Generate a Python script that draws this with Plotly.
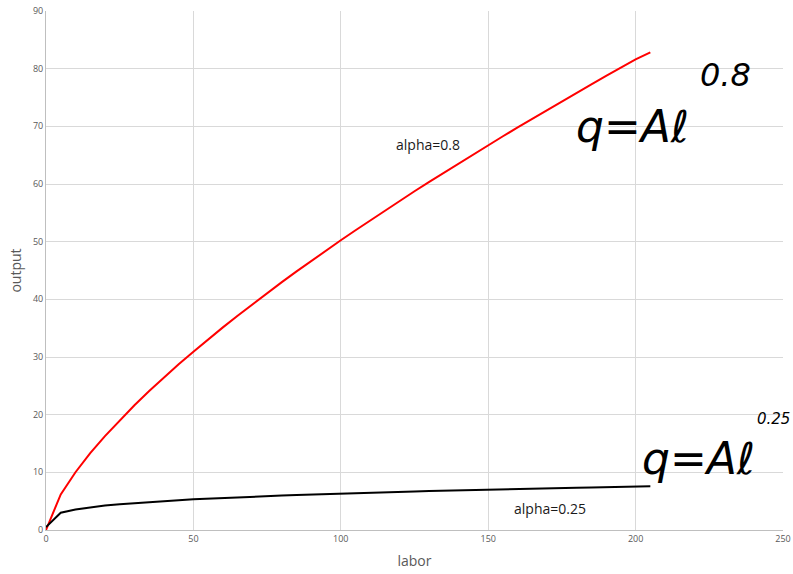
import plotly.graph_objects as go

labor = [0, 5, 10, 15, 20, 25, 30, 35, 40, 45, 50, 55, 60, 65, 70, 75, 80, 85, 90, 95,
         100, 105, 110, 115, 120, 125, 130, 135, 140, 145, 150, 155, 160, 165, 170, 175,
         180, 185, 190, 195, 200, 205]
output_alpha_08 = [0.0, 6.18, 10.02, 13.32, 16.29, 19.04, 21.63, 24.10, 26.46, 28.74, 30.92,
                   33.06, 35.14, 37.16, 39.14, 41.07, 42.98, 44.84, 46.67, 48.47, 50.24,
                   51.98, 53.70, 55.41, 57.08, 58.74, 60.37, 61.98, 63.58, 65.16, 66.72,
                   68.28, 69.81, 71.33, 72.84, 74.33, 75.81, 77.27, 78.73, 80.17, 81.60, 82.84]
output_alpha_025 = [0.5, 2.99, 3.56, 3.94, 4.23, 4.47, 4.68, 4.86, 5.03, 5.18, 5.32, 5.45,
                    5.57, 5.68, 5.79, 5.89, 5.98, 6.07, 6.16, 6.24, 6.32, 6.40, 6.48, 6.55,
                    6.62, 6.69, 6.75, 6.82, 6.88, 6.94, 7.00, 7.06, 7.11, 7.17, 7.22, 7.27,
                    7.33, 7.38, 7.43, 7.47, 7.52, 7.57]

x_ticks = [0, 50, 100, 150, 200, 250]
y_ticks = [0, 10, 20, 30, 40, 50, 60, 70, 80, 90]

fig = go.Figure()
fig.add_trace(go.Scatter(x=labor, y=output_alpha_08, mode="lines",
                         line=dict(color="#ff0000", width=2), name="alpha=0.8"))
fig.add_trace(go.Scatter(x=labor, y=output_alpha_025, mode="lines",
                         line=dict(color="#000000", width=2), name="alpha=0.25"))

gray = "#595959"
fig.update_layout(
    width=793, height=574,
    margin=dict(l=46, r=10, t=11, b=44),
    paper_bgcolor="white", plot_bgcolor="white",
    showlegend=False,
    font=dict(family="Open Sans, Liberation Sans, sans-serif", color=gray),
    xaxis=dict(range=[0, 250], tickvals=x_ticks, showgrid=True, gridcolor="#d9d9d9",
               gridwidth=1, zeroline=False, showline=True, linecolor="#bfbfbf",
               tickfont=dict(size=9, color=gray), ticks="", ticklen=0, automargin=False,
               title=dict(text="labor", font=dict(size=14, color=gray), standoff=12)),
    yaxis=dict(range=[0, 90], tickvals=y_ticks, showgrid=True, gridcolor="#d9d9d9",
               gridwidth=1, zeroline=False, showline=True, linecolor="#bfbfbf",
               tickfont=dict(size=9, color=gray), ticks="", ticklen=0, automargin=False,
               title=dict(text="output", font=dict(size=14, color=gray), standoff=8)),
)

fig.add_annotation(x=129.5, y=66.9, xref="x", yref="y", text="alpha=0.8", showarrow=False,
                   font=dict(size=14, color="#1a1a1a"))
fig.add_annotation(x=171, y=3.8, xref="x", yref="y", text="alpha=0.25", showarrow=False,
                   font=dict(size=14, color="#1a1a1a"))

hand = dict(family="DejaVu Sans, sans-serif", size=44, color="black")
# positions given in page pixels, converted to paper fractions below
fig.add_annotation(x=574, y=154, xref="paper", yref="paper", xanchor="left", yanchor="bottom",
                   text="<i>q=Aℓ</i>", showarrow=False, font=hand)
fig.add_annotation(x=698, y=96, xref="paper", yref="paper", xanchor="left", yanchor="bottom",
                   text="<i>0.8</i>", showarrow=False,
                   font=dict(family="DejaVu Sans, sans-serif", size=32, color="black"))
fig.add_annotation(x=640, y=486, xref="paper", yref="paper", xanchor="left", yanchor="bottom",
                   text="<i>q=Aℓ</i>", showarrow=False, font=hand)
fig.add_annotation(x=755, y=430, xref="paper", yref="paper", xanchor="left", yanchor="bottom",
                   text="<i>0.25</i>", showarrow=False,
                   font=dict(family="DejaVu Sans, sans-serif", size=15, color="black"))

W, H = 793, 574
l, r, t, b = 46, 10, 11, 44
pw, ph = W - l - r, H - t - b
for ann in fig.layout.annotations:
    if ann.xref == "paper":
        ann.x = (ann.x - l) / pw
        ann.y = (H - b - ann.y) / ph

fig.write_html("out.html", config={"displayModeBar": False},
               post_script="document.body.style.margin='0';")
